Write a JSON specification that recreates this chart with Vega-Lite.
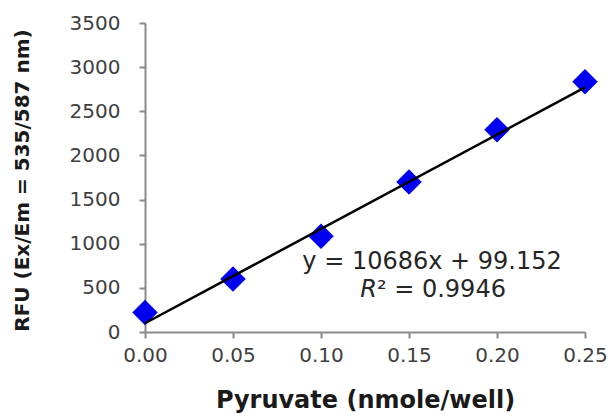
{
  "$schema": "https://vega.github.io/schema/vega-lite/v6.json",
  "width": 440,
  "height": 309,
  "autosize": {"type": "none"},
  "padding": {"left": 145, "top": 23, "right": 29, "bottom": 85},
  "background": "white",
  "config": {"view": {"stroke": null}, "font": "DejaVu Sans"},
  "datasets": {
    "points": [
      {"pyruvate": 0.00, "rfu": 220},
      {"pyruvate": 0.05, "rfu": 600},
      {"pyruvate": 0.10, "rfu": 1085},
      {"pyruvate": 0.15, "rfu": 1700},
      {"pyruvate": 0.20, "rfu": 2290},
      {"pyruvate": 0.25, "rfu": 2835}
    ],
    "fit": [
      {"pyruvate": 0.00, "rfu": 99.152},
      {"pyruvate": 0.25, "rfu": 2770.65}
    ],
    "labels": [
      {"text": "y = 10686x + 99.152"}
    ]
  },
  "layer": [
    {
      "data": {"name": "points"},
      "mark": {"type": "point", "shape": "diamond", "filled": true, "size": 650, "color": "#0000f0", "opacity": 1},
      "encoding": {
        "x": {
          "field": "pyruvate", "type": "quantitative",
          "scale": {"domain": [0, 0.25], "nice": false, "zero": false},
          "axis": {
            "values": [0, 0.05, 0.1, 0.15, 0.2, 0.25],
            "format": ".2f",
            "grid": false,
            "domainColor": "#8a8a8a", "domainWidth": 2,
            "tickColor": "#8a8a8a", "tickWidth": 2, "tickSize": 6,
            "labelFont": "DejaVu Sans", "labelFontSize": 20, "labelColor": "#404040",
            "labelPadding": 7, "labelFlush": false,
            "title": "Pyruvate (nmole/well)",
            "titleFont": "DejaVu Sans", "titleFontSize": 24, "titleFontWeight": "bold", "titleColor": "#1a1a1a",
            "titleBaseline": "alphabetic", "titleY": 75, "titleX": 220, "titleAlign": "center"
          }
        },
        "y": {
          "field": "rfu", "type": "quantitative",
          "scale": {"domain": [0, 3500], "nice": false},
          "axis": {
            "values": [0, 500, 1000, 1500, 2000, 2500, 3000, 3500],
            "format": "d",
            "grid": false,
            "domainColor": "#8a8a8a", "domainWidth": 2,
            "tickColor": "#8a8a8a", "tickWidth": 2, "tickSize": 6,
            "labelFont": "DejaVu Sans", "labelFontSize": 20, "labelColor": "#404040",
            "labelPadding": 19, "labelFlush": false,
            "title": "RFU (Ex/Em = 535/587 nm)",
            "titleFont": "DejaVu Sans", "titleFontSize": 20, "titleFontWeight": "bold", "titleColor": "#1a1a1a",
            "titleAngle": 270, "titleBaseline": "bottom", "titleAlign": "center",
            "titleX": -113, "titleY": 157
          }
        }
      }
    },
    {
      "data": {"name": "fit"},
      "mark": {"type": "line", "color": "#000000", "strokeWidth": 2.5},
      "encoding": {
        "x": {"field": "pyruvate", "type": "quantitative"},
        "y": {"field": "rfu", "type": "quantitative"}
      }
    },
    {
      "data": {"name": "labels"},
      "mark": {"type": "text", "font": "DejaVu Sans", "fontSize": 24, "color": "#262626", "align": "center", "baseline": "middle"},
      "encoding": {
        "x": {"datum": 0.1631, "type": "quantitative"},
        "y": {"datum": 793, "type": "quantitative"},
        "text": {"field": "text"}
      }
    },
    {
      "data": {"name": "labels"},
      "mark": {"type": "text", "font": "DejaVu Sans", "fontSize": 24, "fontStyle": "italic", "color": "#262626", "align": "right", "baseline": "middle", "text": "R"},
      "encoding": {
        "x": {"datum": 0.1318, "type": "quantitative"},
        "y": {"datum": 476, "type": "quantitative"}
      }
    },
    {
      "data": {"name": "labels"},
      "mark": {"type": "text", "font": "DejaVu Sans", "fontSize": 24, "color": "#262626", "align": "left", "baseline": "middle", "text": "² = 0.9946"},
      "encoding": {
        "x": {"datum": 0.1318, "type": "quantitative"},
        "y": {"datum": 476, "type": "quantitative"}
      }
    }
  ]
}
